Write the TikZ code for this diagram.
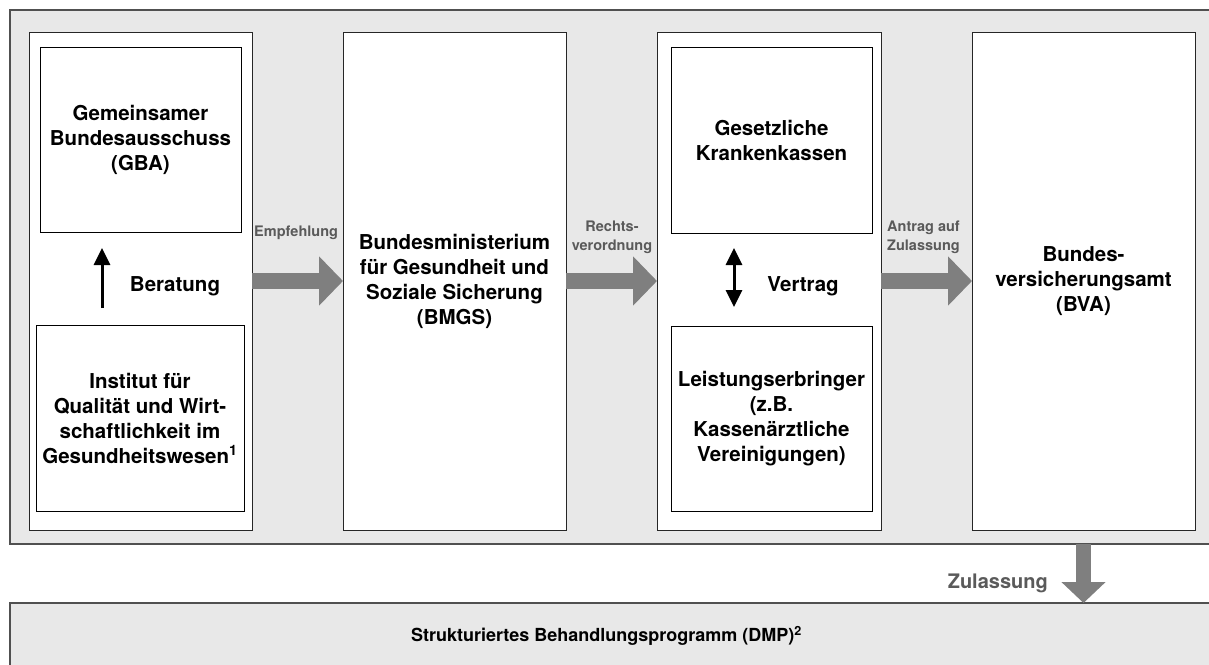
\documentclass[tikz,border=0pt]{standalone}
\usepackage{fontspec}
\setmainfont{TeX Gyre Heros}
\usetikzlibrary{arrows.meta}

\definecolor{bggray}{HTML}{E8E8E8}
\definecolor{framegray}{HTML}{505050}
\definecolor{arrowgray}{HTML}{7F7F7F}
\definecolor{labelgray}{HTML}{5A5A5A}

\tikzset{
  panel/.style={draw=framegray, line width=1.5pt, fill=bggray, inner sep=0pt, outer sep=0pt},
  column/.style={draw=black!85, line width=1pt, fill=white, minimum width=223pt, minimum height=498pt,
    inner sep=0pt, outer sep=0pt, align=center, font=\bfseries\fontsize{20.5}{25}\selectfont},
  innerbox/.style={draw=black, line width=1pt, fill=white, inner sep=0pt, outer sep=0pt,
    align=center, font=\bfseries\fontsize{20.5}{25}\selectfont},
  bigtext/.style={inner sep=0pt, font=\bfseries\fontsize{20.5}{25}\selectfont},
  graylabel/.style={inner sep=0pt, text=labelgray, font=\bfseries\fontsize{14.5}{19}\selectfont},
  bigarrow/.style={draw=arrowgray, line width=16pt, -{Triangle[length=24pt,width=48pt,fill=arrowgray]}},
  thinarrow/.style={draw=black, line width=3pt, -{Triangle[length=17pt,width=16pt]}},
  bothways/.style={draw=black, line width=3pt, {Triangle[length=17pt,width=16pt]}-{Triangle[length=17pt,width=16pt]}}
}

\begin{document}
\begin{tikzpicture}[x=1pt, y=-1pt]

\useasboundingbox (0,0) rectangle (1209,664);

% background panels
\node[panel, minimum width=1205pt, minimum height=534pt] (top) at (612.5,277) {};
\node[panel, minimum width=1205pt, minimum height=66pt, font=\bfseries\fontsize{18}{22}\selectfont] (dmp) at (612.5,636)
  {\hspace*{-12pt}Strukturiertes Behandlungsprogramm (DMP)\textsuperscript{2}};

% columns
\node[column] (col1) at (140.5,281) {};
\node[column] (bmgs) at (454.5,281) {Bundesministerium\\ für Gesundheit und\\ Soziale Sicherung\\ (BMGS)};
\node[column, minimum width=224pt] (col3) at (769,281) {};
\node[column] (bva) at (1083.5,281) {Bundes-\\ versicherungsamt\\ (BVA)};

% boxes inside the columns
\node[innerbox, minimum width=201pt, minimum height=185pt] (gba) at (140.5,139.5) {Gemeinsamer\\ Bundesausschuss\\ (GBA)};
\node[innerbox, minimum width=208pt, minimum height=186pt] (iqwig) at (140,418) {Institut für\\ Qualität und Wirt-\\ schaftlichkeit im\\ Gesundheitswesen\textsuperscript{1}};
\node[innerbox, minimum width=201pt, minimum height=186pt] (gkv) at (771.5,140) {Gesetzliche\\ Krankenkassen};
\node[innerbox, minimum width=201pt, minimum height=185pt] (le) at (771.5,418.5) {Leistungserbringer\\ (z.B.\\ Kassenärztliche\\ Vereinigungen)};

\coordinate (ber1) at (102,308);
\coordinate (ber2) at (102,248);
\coordinate (ver1) at (734,248);
\coordinate (ver2) at (734,307);

\draw[thinarrow] (ber1) -- (ber2);
\node[bigtext] (beratung) at (175,286) {Beratung};

\draw[bothways] (ver1) -- (ver2);
\node[bigtext] (vertrag) at (803,286) {Vertrag};

% gray arrows between the columns
\draw[bigarrow] (col1.east) -- (bmgs.west);
\draw[bigarrow] (bmgs.east) -- (col3.west);
\draw[bigarrow] (col3.east) -- (bva.west);
\draw[bigarrow, -{Triangle[length=21pt,width=43pt,fill=arrowgray]}, line width=15pt] (top.south -| bva.south) -- (dmp.north -| bva.south);

\node[graylabel, anchor=west] (empf) at (254,233) {Empfehlung};
\node[graylabel, align=center] (rv) at (612,237.5) {Rechts-\\ verordnung};
\node[graylabel, align=left, anchor=west] (antrag) at (887,237.5) {Antrag auf\\ Zulassung};
\node[graylabel, anchor=east, font=\bfseries\fontsize{20}{24}\selectfont] (zul) at (1048,583) {Zulassung};

\end{tikzpicture}
\end{document}
